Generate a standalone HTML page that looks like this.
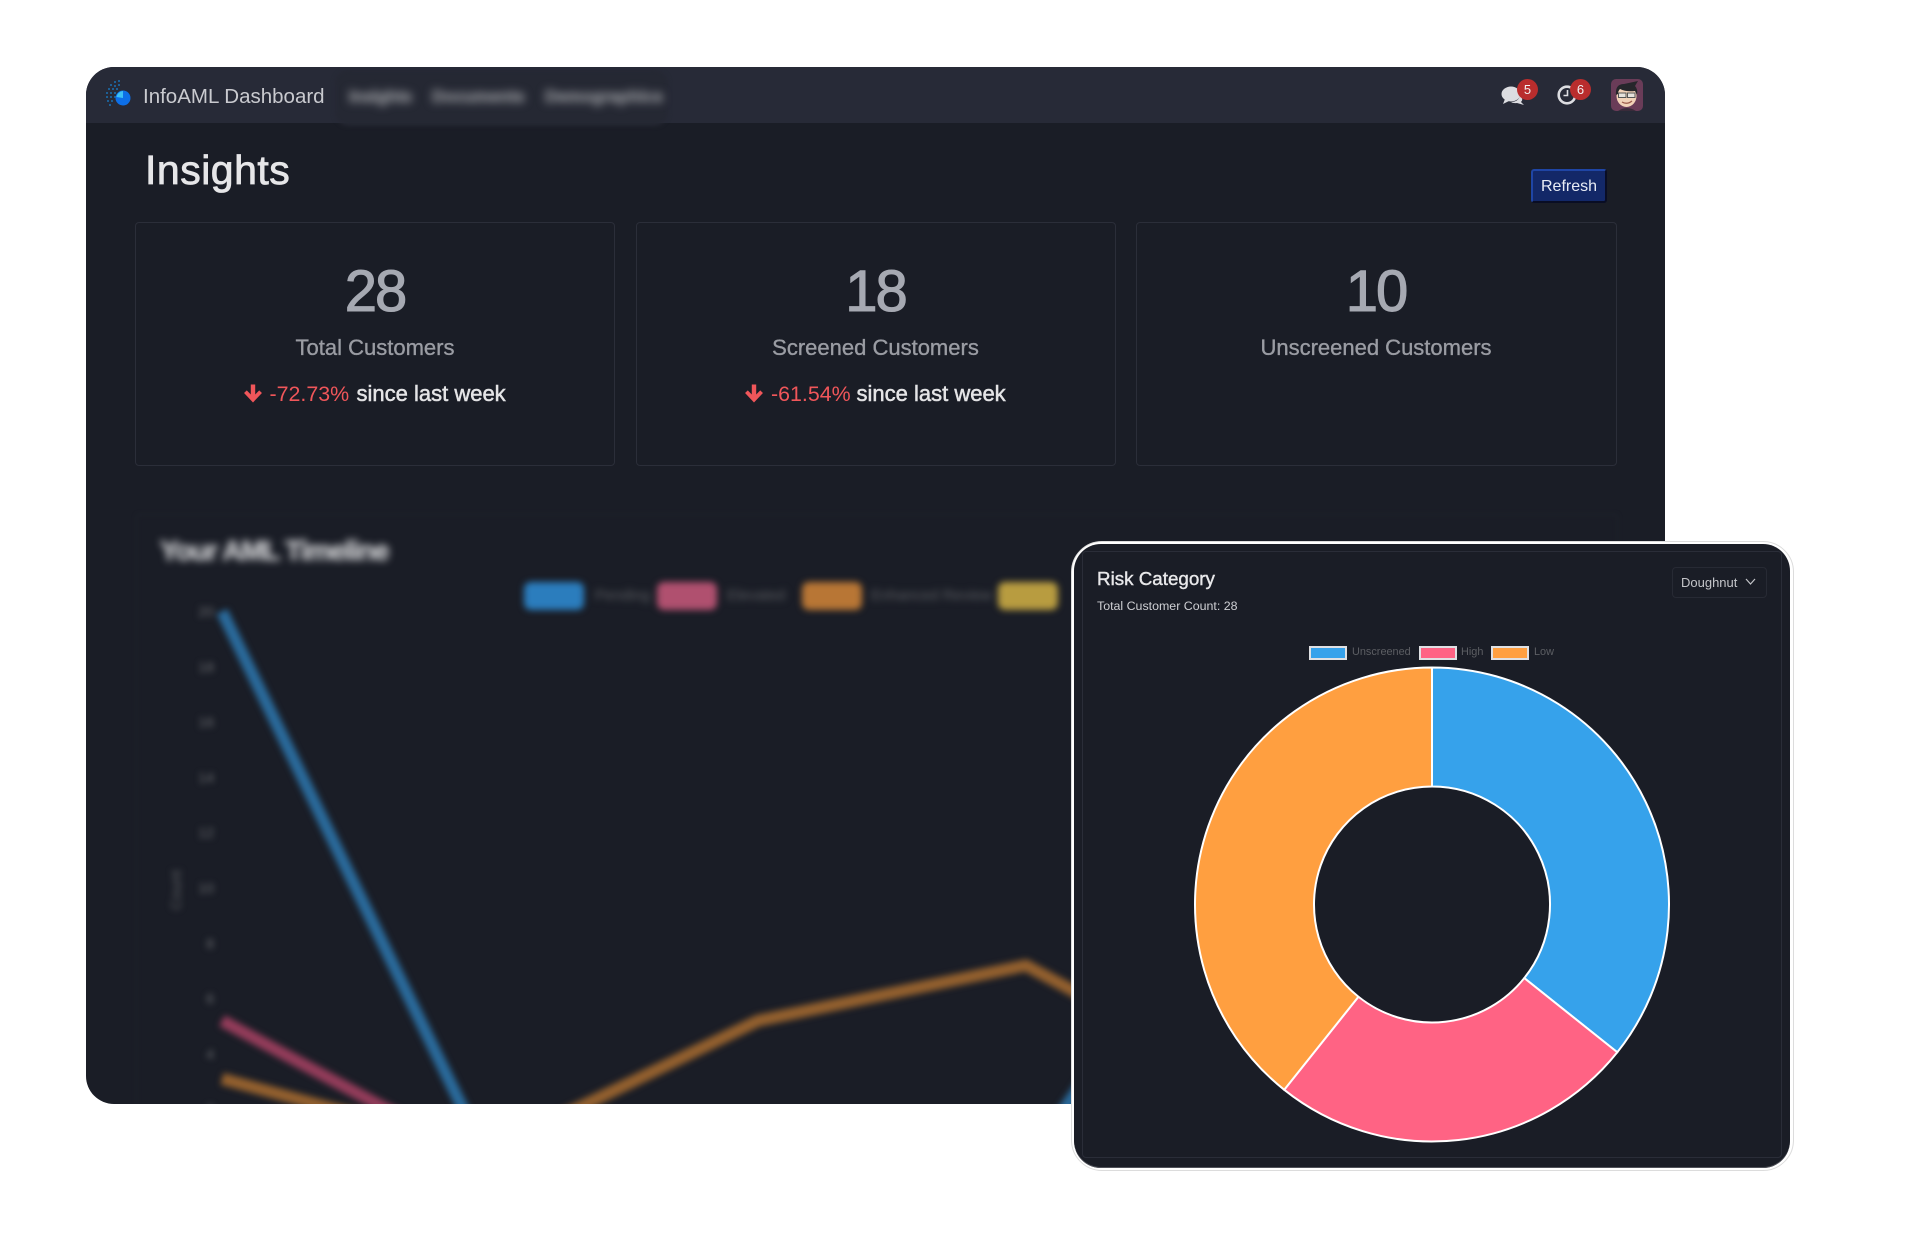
<!DOCTYPE html>
<html lang="en">
<head>
<meta charset="utf-8">
<title>InfoAML Dashboard</title>
<style>
html,body{margin:0;padding:0;background:#fff;}
body{position:relative;width:1920px;height:1260px;overflow:hidden;font-family:"Liberation Sans",Arial,sans-serif;}
.t{position:absolute;line-height:1;white-space:nowrap;}
.c{transform:translateX(-50%);}
#panel{position:absolute;left:86px;top:67px;width:1579px;height:1037px;background:#1a1d26;border-radius:28px 28px 28px 28px;overflow:hidden;}
#stage{position:absolute;left:-86px;top:-67px;width:1920px;height:1260px;}
.card{position:absolute;top:222px;width:478px;height:242px;border:1.5px solid #2b2e39;border-radius:4px;}
.num{font-size:58px;color:#a6a9b2;letter-spacing:-2px;-webkit-text-stroke:1.1px #a6a9b2;top:263px;}
.lbl{font-size:22px;color:#9a9ca3;top:337px;-webkit-text-stroke:.35px #9a9ca3;}
.pct{font-size:21.4px;color:#f0565a;top:384px;}
.since{font-size:22px;color:#e4e4e6;top:383px;-webkit-text-stroke:.5px #e4e4e6;}
.badge{position:absolute;width:21px;height:21px;border-radius:50%;background:#b92d2d;color:#f2f2f2;font-size:13px;line-height:21px;text-align:center;}
.blur-leg{position:absolute;filter:blur(3.5px);}
.sw{position:absolute;top:582px;height:28px;width:60px;border-radius:7px;}
.lt{position:absolute;top:588px;font-size:15px;line-height:1;color:#5d5f63;white-space:nowrap;filter:blur(1.5px);}
.d-sw{position:absolute;top:646px;width:34px;height:10px;border:2px solid #dfe0e3;}
.d-lt{position:absolute;top:647px;font-size:10.9px;line-height:1;color:#5c5e63;white-space:nowrap;}
</style>
</head>
<body>

<div id="panel">
<div id="stage">

  <div style="position:absolute;left:86px;top:67px;width:1579px;height:56px;background:#272a37;"></div>

  <svg style="position:absolute;left:103px;top:80px;" width="30" height="28" viewBox="0 0 30 28">
    <g fill="#1d5f94">
      <rect x="11" y="1" width="2" height="2"/><rect x="15" y="0" width="2" height="2"/><rect x="7" y="4" width="2" height="2"/><rect x="11" y="5" width="2" height="2"/><rect x="15" y="4" width="2" height="2"/>
      <rect x="5" y="8" width="2" height="2"/><rect x="9" y="8" width="2" height="2"/><rect x="13" y="8" width="2" height="2"/><rect x="3" y="12" width="2" height="2"/><rect x="7" y="12" width="2" height="2"/><rect x="11" y="12" width="2" height="2"/>
      <rect x="3" y="16" width="2" height="2"/><rect x="7" y="16" width="2" height="2"/><rect x="11" y="16" width="2" height="2"/><rect x="4" y="20" width="2" height="2"/><rect x="8" y="20" width="2" height="2"/><rect x="6" y="24" width="2" height="2"/>
    </g>
    <circle cx="20" cy="18" r="7.5" fill="#0d6fe8"/>
    <path d="M20 18 L13.5 17 A7 7 0 0 1 20 11 Z" fill="#3cc0f5"/>
  </svg>

  <div class="t" style="left:143px;top:87px;font-size:20.5px;color:#c9cacf;">InfoAML Dashboard</div>

  <div style="position:absolute;left:335px;top:70px;width:333px;height:56px;border-radius:14px;background:#252833;filter:blur(2px);"></div>
  <div class="t" style="left:349px;top:88px;font-size:17px;font-weight:bold;color:#85878d;-webkit-text-stroke:1px #85878d;filter:blur(4.5px);letter-spacing:-.3px;">Insights</div>
  <div class="t" style="left:432px;top:88px;font-size:17px;font-weight:bold;color:#85878d;-webkit-text-stroke:1px #85878d;filter:blur(4.5px);">Documents</div>
  <div class="t" style="left:545px;top:88px;font-size:17px;font-weight:bold;color:#85878d;-webkit-text-stroke:1px #85878d;filter:blur(4.5px);">Demographics</div>

  <svg style="position:absolute;left:1501px;top:84px;" width="26" height="24" viewBox="0 0 26 24">
    <ellipse cx="10" cy="10" rx="9.5" ry="7.5" fill="#dcdde1"/>
    <path d="M4 15 L2 20 L10 16 Z" fill="#dcdde1"/>
    <path d="M19 12 Q23 15 20 18 L23 21 L16 19 Q12 19.5 10 18 Q17 18 19 12 Z" fill="#dcdde1"/>
  </svg>
  <div class="badge" style="left:1517px;top:79px;">5</div>

  <svg style="position:absolute;left:1556px;top:84px;" width="22" height="22" viewBox="0 0 22 22">
    <circle cx="11" cy="11" r="8.3" fill="none" stroke="#dcdde1" stroke-width="2.6"/>
    <path d="M11.5 6 V11.5 H7.5" fill="none" stroke="#dcdde1" stroke-width="1.6"/>
  </svg>
  <div class="badge" style="left:1570px;top:79px;">6</div>

  <svg style="position:absolute;left:1611px;top:79px;" width="32" height="32" viewBox="0 0 32 32">
    <rect width="32" height="32" rx="5" fill="#6a3c58"/>
    <path d="M7 32 Q16 26 25 32 Z" fill="#3a2b3a"/>
    <ellipse cx="15.5" cy="17" rx="10" ry="11" fill="#f2d2b8"/>
    <path d="M5 16 Q4 5 13 5 L27 2 L24 7 Q27 10 26 16 L24 12 Q15 13 9 10 Q7 12 7 15 Z" fill="#26262b"/>
    <rect x="7.5" y="14" width="7.5" height="4.5" fill="#e6e2dc" stroke="#555" stroke-width="1"/>
    <rect x="16.5" y="14" width="7.5" height="4.5" fill="#e6e2dc" stroke="#555" stroke-width="1"/>
    <path d="M11 23 Q16 26 21 22" fill="none" stroke="#9a5a4a" stroke-width="1.2"/>
  </svg>

  <div class="t" style="left:145px;top:150px;font-size:41px;color:#e6e6e8;letter-spacing:.5px;-webkit-text-stroke:.8px #e6e6e8;">Insights</div>

  <div style="position:absolute;left:1531px;top:169px;width:72px;height:30px;background:#132868;border-left:2px solid #1f45a5;border-top:2px solid #1f45a5;border-right:2px solid #090d24;border-bottom:2px solid #090d24;border-radius:3px;color:#e8ecf5;font-size:16px;line-height:32px;text-align:center;">Refresh</div>

  <div class="card" style="left:135px;"></div>
  <div class="t c num" style="left:375px;">28</div>
  <div class="t c lbl" style="left:375px;">Total Customers</div>
  <svg style="position:absolute;left:243px;top:384px;" width="20" height="19" viewBox="0 0 19 18"><path d="M9.5 17.5 L1 8.5 L3.6 6 L7.4 10 V0.5 H11.6 V10 L15.4 6 L18 8.5 Z" fill="#f0565a"/></svg>
  <div class="t pct" style="left:269.5px;">-72.73%</div>
  <div class="t since" style="left:356.5px;">since last week</div>

  <div class="card" style="left:635.5px;"></div>
  <div class="t c num" style="left:875.5px;">18</div>
  <div class="t c lbl" style="left:875.5px;">Screened Customers</div>
  <svg style="position:absolute;left:744px;top:384px;" width="20" height="19" viewBox="0 0 19 18"><path d="M9.5 17.5 L1 8.5 L3.6 6 L7.4 10 V0.5 H11.6 V10 L15.4 6 L18 8.5 Z" fill="#f0565a"/></svg>
  <div class="t pct" style="left:771px;">-61.54%</div>
  <div class="t since" style="left:856.5px;">since last week</div>

  <div class="card" style="left:1135.5px;width:479px;"></div>
  <div class="t c num" style="left:1376px;">10</div>
  <div class="t c lbl" style="left:1376px;">Unscreened Customers</div>

  <div style="position:absolute;left:136px;top:514px;width:1480px;height:640px;border:1.5px solid #22252f;border-radius:4px;filter:blur(2px);"></div>
  <div class="t" style="left:160px;top:537px;font-size:28px;font-weight:bold;letter-spacing:-1.25px;color:#c8c9cc;-webkit-text-stroke:.8px #c8c9cc;filter:blur(4px);">Your AML Timeline</div>

  <div class="blur-leg" style="left:0;top:0;">
    <div class="sw" style="left:524px;background:#2b7dbd;"></div>
    <div class="lt" style="left:595px;">Pending</div>
    <div class="sw" style="left:657px;background:#b0506f;"></div>
    <div class="lt" style="left:727px;">Elevated</div>
    <div class="sw" style="left:802px;background:#b87635;"></div>
    <div class="lt" style="left:871px;">Enhanced Review</div>
    <div class="sw" style="left:998px;background:#b89c40;"></div>
  </div>

  <svg id="timeline-chart" style="position:absolute;left:0;top:0;filter:blur(3.2px);" width="1920" height="1260"></svg>
</div>
</div>

<div style="position:absolute;left:1071px;top:541px;width:721px;height:628px;border:1px solid #dcdcdc;border-radius:31px;background:#fff;"></div>
<div style="position:absolute;left:1074px;top:544px;width:716px;height:624px;background:#1a1d26;border-radius:27px;box-shadow:inset 0 -1px 0 #50525a;"></div>
<div style="position:absolute;left:1082px;top:551px;width:698px;height:605px;border:1px solid #2a2d38;border-radius:4px;"></div>

<div class="t" style="left:1097px;top:570px;font-size:18.8px;color:#e8e8ea;-webkit-text-stroke:.4px #e8e8ea;">Risk Category</div>
<div class="t" style="left:1097px;top:600px;font-size:12.4px;color:#cfd0d4;">Total Customer Count: 28</div>

<div style="position:absolute;left:1672px;top:567px;width:93px;height:29px;border:1px solid #272a34;border-radius:4px;"></div>
<div class="t" style="left:1681px;top:576px;font-size:13px;color:#c4c5c9;">Doughnut</div>
<svg style="position:absolute;left:1745px;top:577px;" width="11" height="9" viewBox="0 0 11 9"><path d="M1 2 L5.5 7 L10 2" fill="none" stroke="#c4c5c9" stroke-width="1.2"/></svg>

<div class="d-sw" style="left:1309px;background:#36a2eb;"></div>
<div class="d-lt" style="left:1352px;">Unscreened</div>
<div class="d-sw" style="left:1419px;background:#ff6384;"></div>
<div class="d-lt" style="left:1461px;">High</div>
<div class="d-sw" style="left:1491px;background:#ff9f40;"></div>
<div class="d-lt" style="left:1534px;">Low</div>

<svg id="doughnut-chart" style="position:absolute;left:0;top:0;" width="1920" height="1260"></svg>

<script>
// Timeline chart data
const timelineCategories = ['Week 1', 'Week 2', 'Week 3', 'Week 4', 'Week 5', 'Week 6'];
const timelineTicks = [0, 2, 4, 6, 8, 10, 12, 14, 16, 18, 20];
const unscreenedSeries = [20, 0, 0, 0, 14, 6];
const highSeries = [5.2, 0, 0, 0, 0, 0];
const lowSeries = [3.1, 0.5, 5.2, 7.2, 2, 1];
const mediumSeries = [0, 0, 0, 0, 0, 0];

// Risk doughnut data
const riskCategories = ['Unscreened', 'High', 'Low'];
const riskValues = [10, 7, 11];

const SVG_NS = 'http://www.w3.org/2000/svg';

function timelineX(i) { return 222 + i * 268; }
function timelineY(v) { return 1164.5 - v * 27.65; }

const timelineSvg = document.getElementById('timeline-chart');

timelineTicks.forEach(function (tick) {
  const label = document.createElementNS(SVG_NS, 'text');
  
  
  label.setAttribute('x', 214);
  label.setAttribute('y', timelineY(tick) + 5);
  label.setAttribute('text-anchor', 'end');
  label.setAttribute('font-family', 'Liberation Sans, sans-serif');
  label.setAttribute('font-size', '14');
  label.setAttribute('fill', '#6a6c70');
  label.textContent = tick;
  timelineSvg.appendChild(label);
});

timelineCategories.forEach(function (cat, i) {
  const label = document.createElementNS(SVG_NS, 'text');
  
  
  label.setAttribute('x', timelineX(i));
  label.setAttribute('y', 1190);
  label.setAttribute('text-anchor', 'middle');
  label.setAttribute('font-size', '14');
  label.setAttribute('fill', '#6a6c70');
  label.textContent = cat;
  timelineSvg.appendChild(label);
});

const yTitle = document.createElementNS(SVG_NS, 'text');


yTitle.setAttribute('transform', 'translate(181 890) rotate(-90)');
yTitle.setAttribute('text-anchor', 'middle');
yTitle.setAttribute('font-family', 'Liberation Sans, sans-serif');
yTitle.setAttribute('font-size', '15');
yTitle.setAttribute('fill', '#5a5c60');
yTitle.textContent = 'Count';
timelineSvg.appendChild(yTitle);

function drawTimelineLine(values, color, name) {
  const line = document.createElementNS(SVG_NS, 'polyline');
  
  
  line.setAttribute('points', values.map(function (v, i) { return timelineX(i) + ',' + timelineY(v); }).join(' '));
  line.setAttribute('fill', 'none');
  line.setAttribute('stroke', color);
  line.setAttribute('stroke-width', '12');
  line.setAttribute('stroke-linejoin', 'round');
  timelineSvg.appendChild(line);
}
drawTimelineLine(mediumSeries, '#a68c3c', 'line-medium');
drawTimelineLine(lowSeries, '#93602e', 'line-low');
drawTimelineLine(highSeries, '#933c5a', 'line-high');
drawTimelineLine(unscreenedSeries, '#2a6a9b', 'line-unscreened');

const doughnutSvg = document.getElementById('doughnut-chart');
const riskColors = ['#36a2eb', '#ff6384', '#ff9f40'];
const riskSliceNames = ['slice-unscreened', 'slice-high', 'slice-low'];
const riskTotal = riskValues.reduce(function (a, b) { return a + b; }, 0);

function polar(radius, angle) {
  return [1432 + radius * Math.sin(angle), 904.5 - radius * Math.cos(angle)];
}
function arcPath(start, end) {
  const large = end - start > Math.PI ? 1 : 0;
  const a = polar(237, start), b = polar(237, end), c = polar(118, end), d = polar(118, start);
  return 'M' + a[0] + ' ' + a[1] + ' A237 237 0 ' + large + ' 1 ' + b[0] + ' ' + b[1] +
         ' L' + c[0] + ' ' + c[1] + ' A118 118 0 ' + large + ' 0 ' + d[0] + ' ' + d[1] + ' Z';
}
let riskCursor = 0;
riskValues.forEach(function (value, i) {
  const sweep = value / riskTotal * Math.PI * 2;
  const slice = document.createElementNS(SVG_NS, 'path');
  
  
  slice.setAttribute('d', arcPath(riskCursor, riskCursor + sweep));
  slice.setAttribute('fill', riskColors[i]);
  slice.setAttribute('stroke', '#ffffff');
  slice.setAttribute('stroke-width', '2');
  slice.setAttribute('stroke-linejoin', 'round');
  doughnutSvg.appendChild(slice);
  riskCursor += sweep;
});
</script>
</body>
</html>
